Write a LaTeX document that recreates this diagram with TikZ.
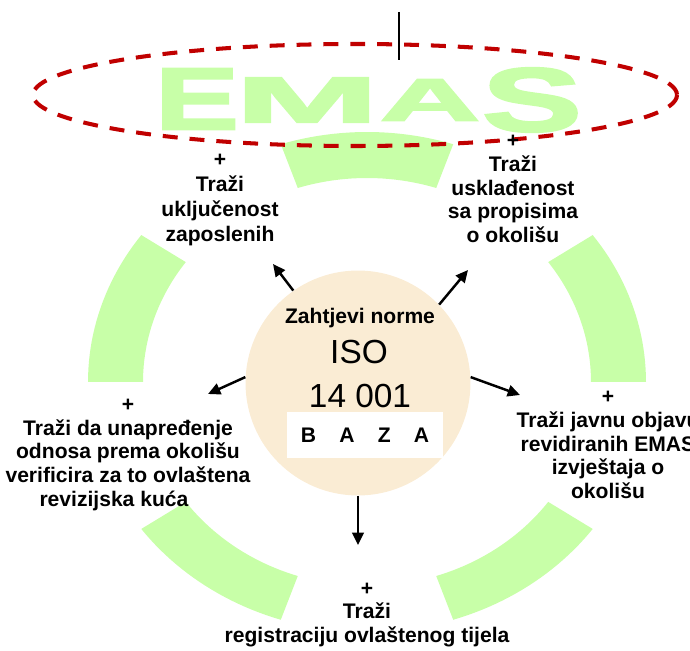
\documentclass[tikz,border=0pt]{standalone}
\usepackage{fontspec}
\setmainfont{Liberation Sans}
\newfontfamily\emasfont[BoldFeatures={FakeBold=2.5}]{Liberation Sans}
\usetikzlibrary{arrows.meta,positioning}

\definecolor{ringgreen}{RGB}{200,255,168}
\definecolor{emasred}{RGB}{192,0,0}
\definecolor{basebeige}{RGB}{250,236,212}

\begin{document}
\begin{tikzpicture}[x=0.02cm, y=-0.02cm,
		ringpart/.style={fill=ringgreen},
		emasletter/.style={text=ringgreen, inner sep=0pt, font=\fontsize{50}{50}\emasfont\bfseries},
		reqtext/.style={align=center, font=\fontsize{12}{13.6}\selectfont\bfseries},
		req/.style={-{Triangle[length=7pt,width=6.5pt]}, line width=1.4pt},
	]
		\useasboundingbox (0,0) rectangle (690,651);

		% green ring, five pieces
		\foreach \a [evaluate=\a as \b using \a+36] in {0,72,...,288}
			\fill[ringpart] plot[domain=\a:\b, samples=24] ({367+279*cos(\x)}, {382-250*sin(\x)})
				-- plot[domain=\b:\a, samples=24] ({367+224*cos(\x)}, {382-204*sin(\x)}) -- cycle;

		% EMAS
		\node[emasletter, xscale=1.42, yscale=1.0] (emasE) at (197,99) {E};
		\node[emasletter, xscale=1.95, yscale=0.74] (emasM) at (307,100) {M};
		\node[emasletter, xscale=1.58, yscale=0.68] (emasA) at (430,100) {A};
		\node[emasletter, xscale=1.7, yscale=1.03] (emasS) at (532,100) {S};

		\draw[emasred, line width=2.3pt, dash pattern=on 8.5pt off 6.8pt] (355,95) ellipse [x radius=322, y radius=51];
		\draw[line width=1.7pt] (399,12) -- (399,60);

		% base
		\node[circle, fill=basebeige, minimum size=4.5cm] (iso) at (358,383) {};
		\node[font=\fontsize{12}{14}\selectfont\bfseries] (norm) at (360,318) {Zahtjevi norme};
		\node[font=\fontsize{19}{22}\selectfont] (isoname) at (359,352) {ISO};
		\node[font=\fontsize{19}{22}\selectfont] (isonum) at (360,396) {14 001};
		\node[fill=white, minimum width=3.12cm, minimum height=0.92cm, font=\fontsize{12}{14}\selectfont\bfseries] (baza) at (365,435) {B\hspace{1.1em}A\hspace{1.1em}Z\hspace{1.1em}A};

		% requirements
		\node[reqtext, font=\fontsize{12}{14.2}\selectfont\bfseries] (empl) at (220,200) {+\\Traži\\uključenost\\zaposlenih};
		\node[reqtext] (law) at (513,189) {+\\Traži\\usklađenost\\sa propisima\\o okolišu};
		\node[reqtext] (publ) at (608,445) {+\\Traži javnu objavu\\revidiranih EMAS\\izvještaja o\\okolišu};
		\node[reqtext] (verif) at (128,455) {+\\Traži da unapređenje\\odnosa prema okolišu\\verificira za to ovlaštena\\revizijska kuća\hspace*{16pt}};
		\node[reqtext] (regis) at (367,615) {+\\Traži\\registraciju ovlaštenog tijela};

		\coordinate (tipUL) at (273,264);
		\coordinate (tipUR) at (468,270);
		\coordinate (tipL) at (208,394);
		\coordinate (tipR) at (520,395);
		\coordinate (tipD) at (358,545);

		\draw[req] (iso.125) -- (tipUL);
		\draw[req] (iso.44) -- (tipUR);
		\draw[req] (iso.177) -- (tipL);
		\draw[req] (iso.3) -- (tipR);
		\draw[req] (iso.south) -- (tipD);
	\end{tikzpicture}
\end{document}
